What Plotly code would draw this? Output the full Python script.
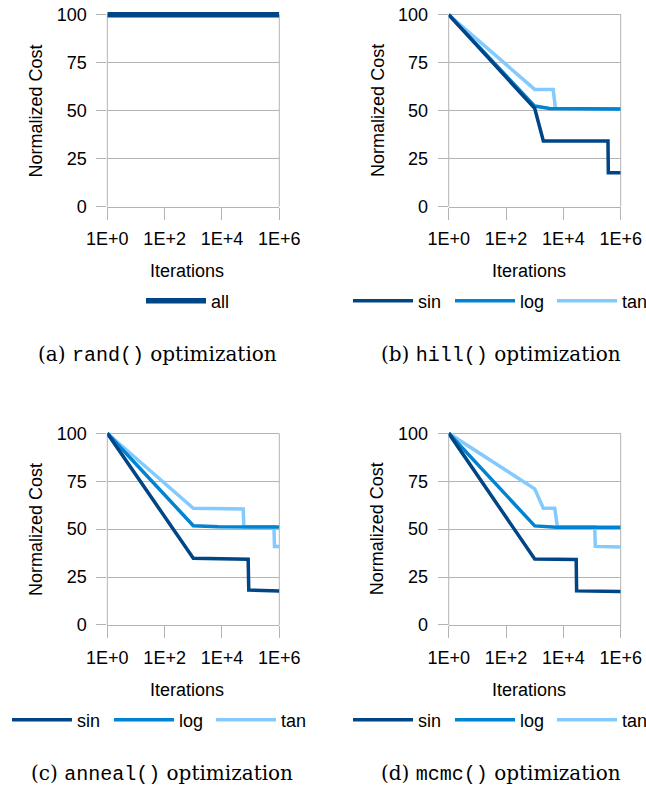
import plotly.graph_objects as go

W, H = 646, 787

# ---------------- data ----------------
tick_vals = [1, 100, 10000, 1000000]
tick_text = ["1E+0", "1E+2", "1E+4", "1E+6"]
y_ticks = [0, 25, 50, 75, 100]

# (a) rand()
rand_all_x = [1, 1000000]
rand_all_y = [100, 100]

# (b) hill()
hill_sin_x = [1, 1000, 2000, 360000, 370000, 1000000]
hill_sin_y = [100, 51.2, 34.2, 34.2, 17.7, 17.7]
hill_log_x = [1, 1000, 3300, 1000000]
hill_log_y = [100, 52.4, 51.2, 50.9]
hill_tan_x = [1, 1000, 4400, 5300, 1000000]
hill_tan_y = [100, 61.1, 61.0, 51.2, 50.9]

# (c) anneal()
anneal_sin_x = [1, 1000, 82000, 86000, 1000000]
anneal_sin_y = [100, 34.8, 34.3, 18.2, 17.7]
anneal_log_x = [1, 1000, 7400, 1000000]
anneal_log_y = [100, 51.8, 51.3, 51.1]
anneal_tan_x = [1, 1000, 55000, 58000, 650000, 680000, 1000000]
anneal_tan_y = [100, 60.9, 60.5, 51.3, 51.2, 40.9, 40.9]

# (d) mcmc()
mcmc_sin_x = [1, 1000, 28000, 29000, 1000000]
mcmc_sin_y = [100, 34.4, 34.2, 17.8, 17.5]
mcmc_log_x = [1, 1000, 5700, 1000000]
mcmc_log_y = [100, 51.7, 51.0, 51.0]
mcmc_tan_x = [1, 1000, 2000, 5000, 6200, 124000, 130000, 1000000]
mcmc_tan_y = [100, 71.0, 60.9, 60.9, 51.3, 51.2, 41.0, 40.7]

captions = [
    ("(a) ", "rand()", " optimization"),
    ("(b) ", "hill()", " optimization"),
    ("(c) ", "anneal()", " optimization"),
    ("(d) ", "mcmc()", " optimization"),
]

C_SIN = "#004586"
C_LOG = "#0084d1"
C_TAN = "#83caff"
GRID = "#b3b3b3"
FONT = "Liberation Sans"


def px(x):
    return x / W


def py(y):
    return 1 - y / H


fig = go.Figure()

# panel geometry (pixels)
panels = {
    1: dict(x0=107.3, x1=279.3, y0=206.7, y100=14.7),
    2: dict(x0=448.7, x1=620.7, y0=206.7, y100=14.7),
    3: dict(x0=107.3, x1=279.3, y0=625.0, y100=433.3),
    4: dict(x0=448.7, x1=620.7, y0=625.0, y100=433.3),
}
YMAX = 103

series = {
    1: [("all", rand_all_x, rand_all_y, C_SIN, 5.5, 1)],
    2: [("tan", hill_tan_x, hill_tan_y, C_TAN, 3.5, 3),
        ("log", hill_log_x, hill_log_y, C_LOG, 3.5, 2),
        ("sin", hill_sin_x, hill_sin_y, C_SIN, 3.5, 1)],
    3: [("tan", anneal_tan_x, anneal_tan_y, C_TAN, 3.5, 3),
        ("log", anneal_log_x, anneal_log_y, C_LOG, 3.5, 2),
        ("sin", anneal_sin_x, anneal_sin_y, C_SIN, 3.5, 1)],
    4: [("tan", mcmc_tan_x, mcmc_tan_y, C_TAN, 3.5, 3),
        ("log", mcmc_log_x, mcmc_log_y, C_LOG, 3.5, 2),
        ("sin", mcmc_sin_x, mcmc_sin_y, C_SIN, 3.5, 1)],
}

legend_pos = {1: (146, 301), 2: (353, 301), 3: (12, 720), 4: (353, 720)}

layout = dict(
    width=W, height=H,
    margin=dict(l=0, r=0, t=0, b=0, autoexpand=False),
    paper_bgcolor="white", plot_bgcolor="white",
    font=dict(family=FONT, size=18, color="black"),
    showlegend=True,
    hovermode=False,
)

annotations = []
shapes = []

for i, p in panels.items():
    sfx = "" if i == 1 else str(i)
    unit = (p["y0"] - p["y100"]) / 100.0
    ytop = p["y100"] - (YMAX - 100) * unit
    layout["xaxis" + sfx] = dict(
        type="log", range=[0, 6], domain=[px(p["x0"]), px(p["x1"])],
        anchor="y" + sfx, tickvals=tick_vals, ticktext=tick_text,
        ticks="outside", ticklen=12, tickcolor=GRID, tickwidth=1,
        showline=True, linecolor=GRID, linewidth=1, showgrid=False,
        zeroline=False, tickfont=dict(family=FONT, size=18, color="black"),
        ticklabelstandoff=4,
    )
    layout["yaxis" + sfx] = dict(
        range=[0, YMAX], domain=[py(p["y0"]), py(ytop)],
        anchor="x" + sfx, tickvals=y_ticks,
        ticks="outside", ticklen=10, tickcolor=GRID, tickwidth=1,
        showline=False, showgrid=True, gridcolor=GRID, gridwidth=1,
        zeroline=False, tickfont=dict(family=FONT, size=18, color="black"),
        ticklabelstandoff=6,
    )
    # left / right frame lines
    for xd in (0, 1):
        shapes.append(dict(type="line", xref="x%s domain" % sfx, yref="y" + sfx,
                           x0=xd, x1=xd, y0=0, y1=100, layer="below",
                           line=dict(color=GRID, width=1)))
    lname = "legend" if i == 1 else "legend%d" % i
    for name, xs, ys, col, lw, rank in series[i]:
        fig.add_trace(go.Scatter(
            x=xs, y=ys, mode="lines", name=name,
            line=dict(color=col, width=lw),
            xaxis="x" + sfx, yaxis="y" + sfx,
            legend=lname, legendrank=rank, showlegend=True,
        ))
    lx, ly = legend_pos[i]
    leg = dict(
        orientation="h", x=px(lx - 5), y=py(ly), xanchor="left", yanchor="middle",
        font=dict(family=FONT, size=18, color="black"), itemwidth=60,
        bgcolor="rgba(0,0,0,0)", borderwidth=0, tracegroupgap=0,
    )
    if i > 1:
        leg["entrywidth"] = 27
        leg["entrywidthmode"] = "pixels"
    layout[lname] = leg
    # axis titles
    xc = (p["x0"] + p["x1"]) / 2
    yc = (p["y0"] + p["y100"]) / 2
    annotations.append(dict(text="Normalized Cost", xref="paper", yref="paper",
                            x=px(p["x0"] - 71.5), y=py(yc), textangle=-90,
                            showarrow=False, xanchor="center", yanchor="middle",
                            font=dict(family=FONT, size=18, color="black")))
    annotations.append(dict(text="Iterations", xref="paper", yref="paper",
                            x=px(xc - 6), y=py(p["y0"] + 64.5),
                            showarrow=False, xanchor="center", yanchor="middle",
                            font=dict(family=FONT, size=18, color="black")))

cap_pos = [(157, 354), (501, 354), (162, 773), (501, 773)]
for (a, mono, b), (cx, cy) in zip(captions, cap_pos):
    txt = a + "<span style=\"font-family:'Liberation Mono'\">" + mono + "</span>" + b
    annotations.append(dict(text=txt, xref="paper", yref="paper",
                            x=px(cx), y=py(cy), showarrow=False,
                            xanchor="center", yanchor="middle",
                            font=dict(family="DejaVu Serif", size=20, color="black")))

layout["annotations"] = annotations
layout["shapes"] = shapes
fig.update_layout(**layout)

fig.write_html("out.html",
               config={"displayModeBar": False, "staticPlot": True},
               post_script=["document.body.style.margin='0px';"
                            "document.body.style.overflow='hidden';"])
